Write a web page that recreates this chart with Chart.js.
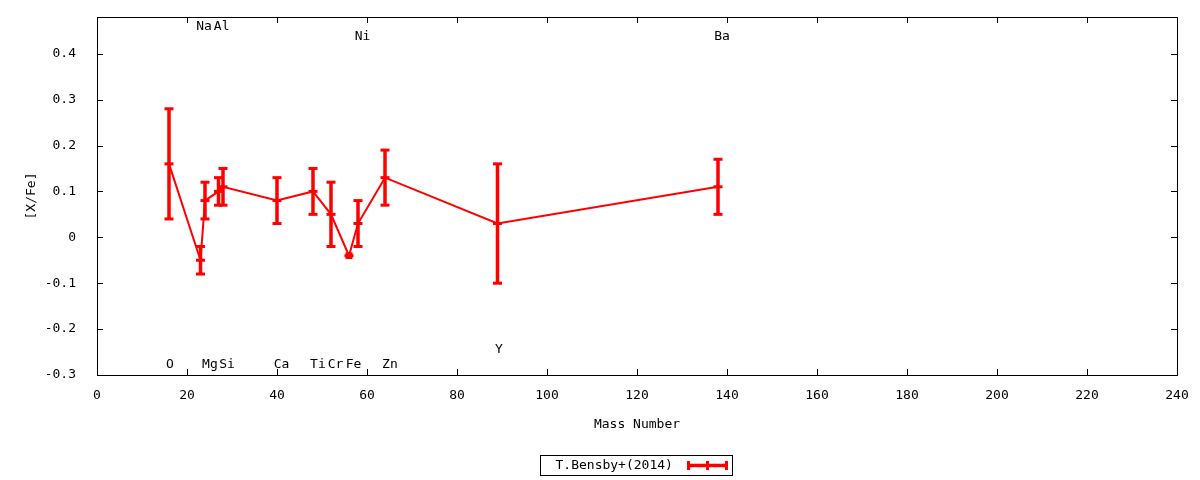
<!DOCTYPE html>
<html>
<head>
<meta charset="utf-8">
<script src="https://cdn.jsdelivr.net/npm/chart.js@4/dist/chart.umd.min.js"></script>
<style>
  body { margin: 0; background: #fff; }
  #wrap { width: 1200px; height: 480px; }
</style>
</head>
<body>
<div id="wrap"><canvas id="abundChart" width="1200" height="480"></canvas></div>
<script>
// [X/Fe] vs mass number, T.Bensby+(2014)
const elements = ['O', 'Na', 'Mg', 'Al', 'Si', 'Ca', 'Ti', 'Cr', 'Fe', 'Ni', 'Zn', 'Y', 'Ba'];
const massNumber = [16, 23, 24, 27, 28, 40, 48, 52, 56, 58, 64, 89, 138];
const xFe = [0.16, -0.05, 0.08, 0.10, 0.11, 0.08, 0.10, 0.05, -0.04, 0.03, 0.13, 0.03, 0.11];
const xFeErr = [0.12, 0.03, 0.04, 0.03, 0.04, 0.05, 0.05, 0.07, 0.004, 0.05, 0.06, 0.13, 0.06];

// element name annotations (data coordinates)
const labelX = [16.2, 23.8, 25.1, 27.7, 28.9, 41, 49.1, 53, 57, 59, 65.1, 89.3, 138.9];
const labelY = [-0.277, 0.459, -0.277, 0.459, -0.277, -0.277, -0.277, -0.277, -0.277, 0.437, -0.277, -0.245, 0.437];

const xTicks = [0, 20, 40, 60, 80, 100, 120, 140, 160, 180, 200, 220, 240];
const yTicks = [-0.3, -0.2, -0.1, 0, 0.1, 0.2, 0.3, 0.4];
const yTickLabels = ['-0.3', '-0.2', '-0.1', '0', '0.1', '0.2', '0.3', '0.4'];

const seriesName = 'T.Bensby+(2014)';
const red = '#ff0000';
const FONT = "'DejaVu Sans Mono', monospace";

function drawBar(ctx, x, yTop, yBot) {
    const cap = yBot - yTop < 8 ? 7 : 9;
    ctx.fillRect(x - 1.75, yTop, 3.5, yBot - yTop);
    ctx.fillRect(x - cap / 2, yTop - 1.5, cap, 3);
    ctx.fillRect(x - cap / 2, yBot - 1.5, cap, 3);
}

const errorBars = {
    id: 'errorBars',
    afterDatasetsDraw(chart) {
        const ctx = chart.ctx;
        const xs = chart.scales.x, ys = chart.scales.y;
        ctx.save();
        ctx.fillStyle = red;
        massNumber.forEach((m, i) => {
            const px = xs.getPixelForValue(m);
            const py = ys.getPixelForValue(xFe[i]);
            drawBar(ctx, px, ys.getPixelForValue(xFe[i] + xFeErr[i]), ys.getPixelForValue(xFe[i] - xFeErr[i]));
            ctx.fillRect(px - 4.5, py - 1.5, 9, 3);
        });
        ctx.restore();
    }
};

const frame = {
    id: 'frame',
    afterDraw(chart) {
        const ctx = chart.ctx;
        const a = chart.chartArea;
        const xs = chart.scales.x, ys = chart.scales.y;
        ctx.save();
        ctx.strokeStyle = '#000';
        ctx.lineWidth = 1;
        ctx.strokeRect(Math.round(a.left) + 0.5, Math.round(a.top) + 0.5,
            Math.round(a.right - a.left), Math.round(a.bottom - a.top));
        // inward ticks on all four sides
        ctx.beginPath();
        xs.ticks.forEach((t, i) => {
            const px = Math.round(xs.getPixelForTick(i)) + 0.5;
            ctx.moveTo(px, a.bottom); ctx.lineTo(px, a.bottom - 6);
            ctx.moveTo(px, a.top); ctx.lineTo(px, a.top + 6);
        });
        ys.ticks.forEach((t, i) => {
            const py = Math.round(ys.getPixelForTick(i)) + 0.5;
            ctx.moveTo(a.left, py); ctx.lineTo(a.left + 6, py);
            ctx.moveTo(a.right, py); ctx.lineTo(a.right - 6, py);
        });
        ctx.stroke();

        // element labels
        ctx.fillStyle = '#000';
        ctx.font = '13px ' + FONT;
        ctx.textAlign = 'center';
        ctx.textBaseline = 'middle';
        elements.forEach((el, i) => {
            ctx.fillText(el, xs.getPixelForValue(labelX[i]), ys.getPixelForValue(labelY[i]));
        });

        // legend box below the axis title
        const cx = (a.left + a.right) / 2;
        const bx = Math.round(cx - 97) + 0.5, by = 455.5;
        ctx.strokeRect(bx, by, 192, 20);
        ctx.textAlign = 'left';
        ctx.fillText(seriesName, bx + 15, by + 10);
        ctx.fillStyle = red;
        const x0 = bx + 148, x1 = bx + 186, ym = by + 10;
        ctx.fillRect(x0, ym - 1.75, x1 - x0, 3.5);
        ctx.fillRect(x0 - 1.5, ym - 4.5, 3, 9);
        ctx.fillRect(x1 - 1.5, ym - 4.5, 3, 9);
        ctx.fillRect((x0 + x1) / 2 - 1.5, ym - 4.5, 3, 9);
        ctx.restore();
    }
};

const ctx = document.getElementById('abundChart').getContext('2d');
const abundChart = new Chart(ctx, {
    type: 'line',
    data: {
        datasets: [{
            label: seriesName,
            data: massNumber.map((m, i) => ({ x: m, y: xFe[i] })),
            borderColor: red,
            backgroundColor: red,
            borderWidth: 2,
            pointRadius: 0,
            tension: 0
        }]
    },
    options: {
        responsive: false,
        animation: false,
        devicePixelRatio: 1,
        layout: { padding: { left: 0, right: 23, top: 17, bottom: 40 } },
        plugins: {
            legend: { display: false },
            tooltip: { enabled: false }
        },
        scales: {
            x: {
                type: 'linear',
                min: 0,
                max: 240,
                afterBuildTicks(scale) { scale.ticks = xTicks.map(v => ({ value: v })); },
                afterFit(scale) { scale.height = 65; },
                grid: { display: false },
                border: { display: false },
                ticks: {
                    color: '#000',
                    font: { family: FONT, size: 13 },
                    padding: 5,
                    maxRotation: 0,
                    callback: v => String(v)
                },
                title: {
                    display: true,
                    text: 'Mass Number',
                    color: '#000',
                    font: { family: FONT, size: 13 },
                    padding: { top: 0, bottom: 8 }
                }
            },
            y: {
                type: 'linear',
                min: -0.3,
                max: 0.48,
                afterBuildTicks(scale) { scale.ticks = yTicks.map(v => ({ value: v })); },
                afterFit(scale) {
                    scale.width = 97;
                    scale.paddingTop = 0;
                    scale.paddingBottom = 0;
                },
                grid: { display: false },
                border: { display: false },
                ticks: {
                    color: '#000',
                    font: { family: FONT, size: 13 },
                    padding: 13,
                    callback: (v, i) => yTickLabels[i]
                },
                title: {
                    display: true,
                    text: '[X/Fe]',
                    color: '#000',
                    font: { family: FONT, size: 13 },
                    padding: { top: 24, bottom: 0 }
                }
            }
        }
    },
    plugins: [errorBars, frame]
});
</script>
</body>
</html>
